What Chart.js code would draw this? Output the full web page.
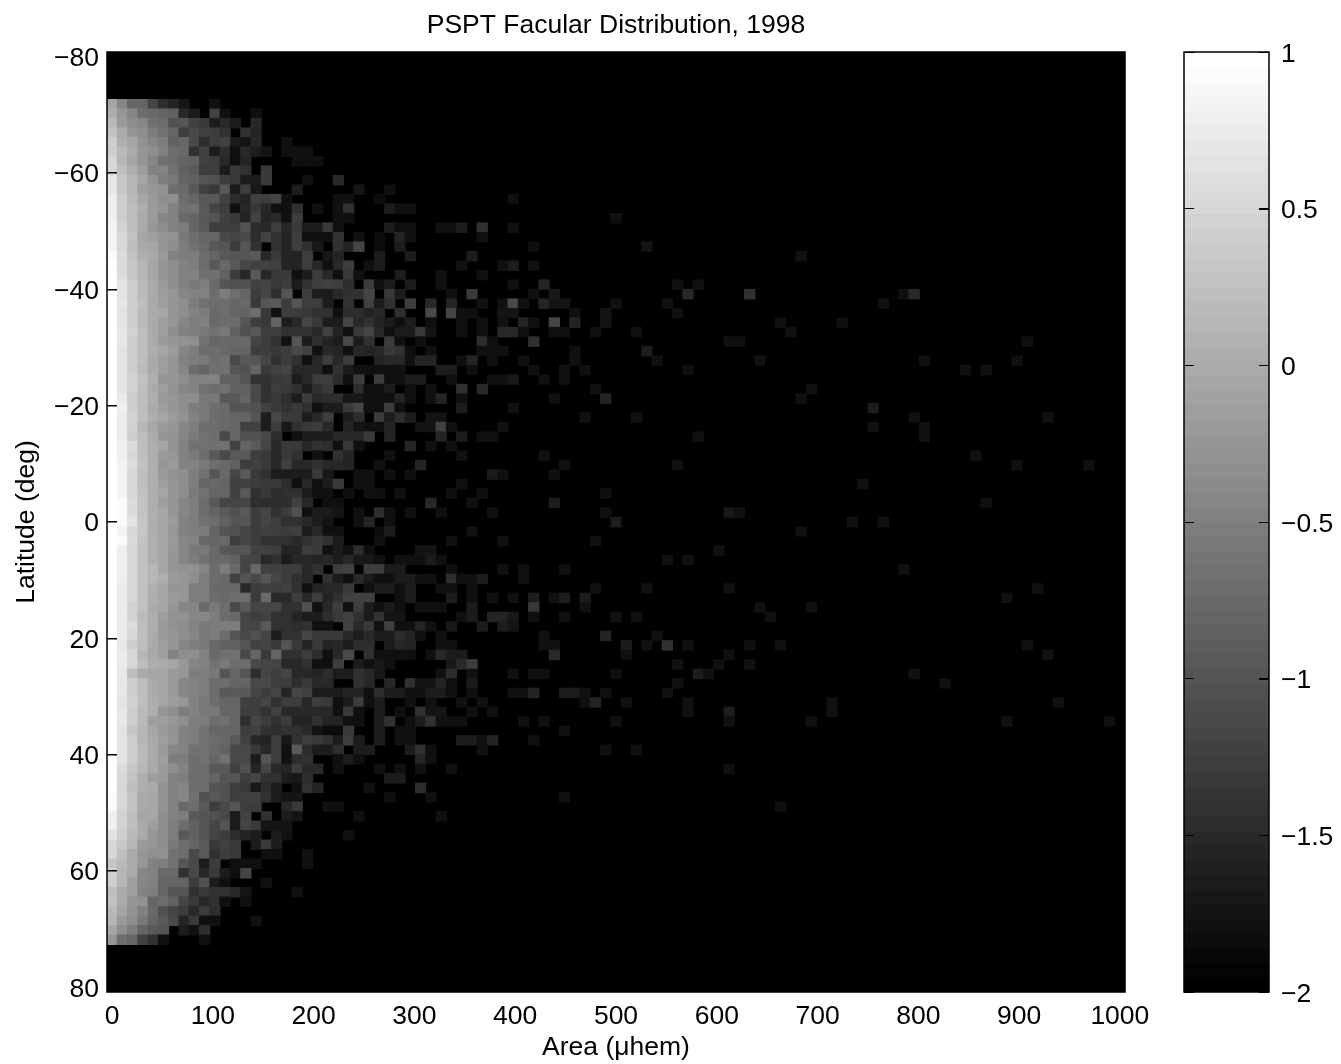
<!DOCTYPE html>
<html>
<head>
<meta charset="utf-8">
<title>PSPT Facular Distribution, 1998</title>
<script src="https://cdn.jsdelivr.net/npm/chart.js@4/dist/chart.umd.js"></script>
<style>
body { margin: 0; background: #fff; }
canvas { position: absolute; top: 0; }
#mapChart { left: 0; }
#barChart { left: 1150px; }
</style>
</head>
<body>
<canvas id="mapChart" width="1341" height="1064"></canvas>
<canvas id="barChart" width="191" height="1064"></canvas>
<script>
//axis ticks
let areaTicks = [0, 100, 200, 300, 400, 500, 600, 700, 800, 900, 1000]
let latTicks = [-80, -60, -40, -20, 0, 20, 40, 60, 80]
let colorTicks = [-2, -1.5, -1, -0.5, 0, 0.5, 1]

//bin centres of the image
let areaBins = [0,10.2,20.4,30.6,40.8,51,61.2,71.4,81.6,91.8,102,112.2,122.4,132.7,142.9,153.1,163.3,173.5,183.7,193.9,204.1,214.3,224.5,234.7,244.9,255.1,265.3,275.5,285.7,295.9,306.1,316.3,326.5,336.7,346.9,357.1,367.3,377.6,387.8,398,408.2,418.4,428.6,438.8,449,459.2,469.4,479.6,489.8,500,510.2,520.4,530.6,540.8,551,561.2,571.4,581.6,591.8,602,612.2,622.4,632.7,642.9,653.1,663.3,673.5,683.7,693.9,704.1,714.3,724.5,734.7,744.9,755.1,765.3,775.5,785.7,795.9,806.1,816.3,826.5,836.7,846.9,857.1,867.3,877.6,887.8,898,908.2,918.4,928.6,938.8,949,959.2,969.4,979.6,989.8,1000]
let latBins = [-80,-78.37,-76.73,-75.1,-73.47,-71.84,-70.2,-68.57,-66.94,-65.31,-63.67,-62.04,-60.41,-58.78,-57.14,-55.51,-53.88,-52.24,-50.61,-48.98,-47.35,-45.71,-44.08,-42.45,-40.82,-39.18,-37.55,-35.92,-34.29,-32.65,-31.02,-29.39,-27.76,-26.12,-24.49,-22.86,-21.22,-19.59,-17.96,-16.33,-14.69,-13.06,-11.43,-9.8,-8.16,-6.53,-4.9,-3.27,-1.63,0,1.63,3.27,4.9,6.53,8.16,9.8,11.43,13.06,14.69,16.33,17.96,19.59,21.22,22.86,24.49,26.12,27.76,29.39,31.02,32.65,34.29,35.92,37.55,39.18,40.82,42.45,44.08,45.71,47.35,48.98,50.61,52.24,53.88,55.51,57.14,58.78,60.41,62.04,63.67,65.31,66.94,68.57,70.2,71.84,73.47,75.1,76.73,78.37,80]

//colour bar levels
let colorLevels = [-1.9766,-1.9297,-1.8828,-1.8359,-1.7891,-1.7422,-1.6953,-1.6484,-1.6016,-1.5547,-1.5078,-1.4609,-1.4141,-1.3672,-1.3203,-1.2734,-1.2266,-1.1797,-1.1328,-1.0859,-1.0391,-0.9922,-0.9453,-0.8984,-0.8516,-0.8047,-0.7578,-0.7109,-0.6641,-0.6172,-0.5703,-0.5234,-0.4766,-0.4297,-0.3828,-0.3359,-0.2891,-0.2422,-0.1953,-0.1484,-0.1016,-0.0547,-0.0078,0.0391,0.0859,0.1328,0.1797,0.2266,0.2734,0.3203,0.3672,0.4141,0.4609,0.5078,0.5547,0.6016,0.6484,0.6953,0.7422,0.7891,0.8359,0.8828,0.9297,0.9766]

//log10 values, one row per latitude bin starting at denseFirstRow, columns from area 0
let denseFirstRow = 5
let denseRows = [
[-.06,-.41,-.82,-.82,-1.18,-1.47,-1.59,-1.76,-2,-2,-1.82],
[.06,-.24,-.41,-.71,-.76,-.82,-.88,-1.53,-1.65,-2,-1.24,-1.82,-2,-2,-1.82],
[.18,-.18,-.35,-.41,-.65,-.71,-1.06,-1,-1.24,-1.35,-1.65,-1.53,-1.67,-2,-1.53],
[.29,0,-.24,-.35,-.53,-.65,-.82,-1.29,-1.12,-1.24,-1.29,-1.41,-2,-1.41,-1.59],
[.41,.06,-.06,-.29,-.41,-.53,-.88,-.82,-1.12,-1.47,-1.29,-1.24,-1.65,-1.76,-1.53,-2,-2,-1.82],
[.41,.18,0,-.24,-.35,-.47,-.71,-.76,-1.41,-1.24,-1.65,-1.47,-1.82,-1.53,-1.65,-1.76,-2,-1.82,-1.82,-1.82],
[.53,.12,-.06,-.24,-.41,-.65,-.71,-.82,-.88,-1.24,-1.29,-1.53,-1.82,-1.59,-2,-2,-2,-2,-1.82,-1.82,-1.82],
[.53,.24,.06,-.12,-.47,-.47,-.65,-.88,-.94,-1.29,-1.29,-1.65,-1.35,-1.41,-2,-1.35],
[.71,.35,.12,-.06,-.29,-.53,-.59,-.82,-.88,-1,-1.06,-1.29,-1.35,-1.65,-1.65,-1.35,-2,-2,-2,-1.82,-2,-2,-1.53],
[.71,.35,.12,-.12,-.24,-.29,-.71,-.76,-.94,-1.24,-1.35,-.94,-1.65,-1.29,-1.71,-2,-2,-2,-1.65],
[.82,.41,.18,-.06,-.18,-.35,-.35,-.71,-.82,-.94,-.94,-1.24,-1.47,-1.59,-1.24,-1.29,-1.18,-1.82,-2,-2,-2,-2,-1.82],
[.82,.41,.24,.06,-.18,-.29,-.47,-.65,-.65,-.94,-1.18,-1.29,-1.82,-1.53,-1.35,-1.53,-1.82,-1.82,-1.41,-2,-1.82,-2,-1.82],
[.82,.41,.24,0,-.18,-.41,-.47,-.76,-.82,-.94,-1,-1.24,-1.35,-1.59,-1.24,-1.59,-1.53,-1.82,-1.29,-2,-2,-2,-1.82],
[.88,.47,.24,0,-.24,-.35,-.47,-.53,-.82,-.94,-1.29,-1.29,-1.29,-1,-1.47,-1.53,-1.29,-1.53,-1.35,-1.65,-1.65,-1.35,-1.82],
[.88,.53,.29,-.06,-.12,-.24,-.29,-.59,-.71,-.82,-.82,-1.12,-1.18,-1.12,-1.47,-1.24,-1.41,-1.59,-1.29,-1.82,-1.82,-1.82,-1.41],
[.88,.53,.24,0,-.06,-.24,-.35,-.53,-.65,-.76,-.94,-1,-1.29,-1,-1.41,-2,-1.41,-1.59,-1.29,-1.41,-1.71,-2,-1.41],
[.94,.59,.29,.06,0,-.18,-.47,-.53,-.53,-.71,-.82,-.94,-1,-1,-.94,-1.53,-1.35,-1.59,-1.59,-1.29,-2,-1.71,-1.59],
[1,.59,.35,.12,-.06,-.24,-.35,-.47,-.53,-.71,-.94,-.76,-.94,-1.18,-1.24,-1.24,-1.24,-1.59,-1.59,-1.29,-1.53,-1.82,-1.53],
[1,.59,.35,.12,-.06,-.24,-.35,-.47,-.47,-.65,-.65,-.88,-1.29,-1.53,-.94,-1.53,-1.35,-1.35,-1.82,-1.65,-1.29,-1.53,-1.82],
[1,.65,.41,.18,0,-.18,-.35,-.47,-.59,-.53,-.76,-1,-1.06,-1.06,-1.24,-1.18,-1.35,-1.29,-1.65,-1.41,-1.29,-1.24,-1.29],
[1,.65,.41,.18,0,-.12,-.24,-.41,-.47,-.47,-.71,-.53,-.71,-.82,-1.29,-1.18,-1.47,-1,-2,-1.29,-1.65,-1.65,-1.53],
[1,.71,.41,.24,0,-.12,-.24,-.35,-.53,-.65,-.71,-.71,-.82,-.76,-1.35,-1,-.94,-1.29,-1,-1.29,-1.29,-1.65,-2],
[1,.65,.41,.18,0,-.06,-.24,-.35,-.47,-.53,-.76,-.71,-.82,-.82,-.71,-1.35,-1.82,-1.29,-1.29,-1.35,-1.41,-1.41,-1.82],
[1,.65,.41,.18,0,-.12,-.24,-.41,-.53,-.47,-.76,-.71,-.71,-1,-1.29,-1.35,-.82,-1.65,-1.53,-1.18,-1.35,-1.65,-1.65],
[1,.71,.47,.24,0,-.12,-.35,-.47,-.53,-.59,-.65,-.59,-.88,-1.06,-.94,-1.29,-1.29,-1.41,-1.41,-1.41,-1.53,-1.24,-1.59],
[1,.71,.41,.24,0,-.18,-.24,-.29,-.35,-.65,-.82,-.76,-.76,-.76,-1.18,-1.29,-1.41,-1.82,-1,-1.65,-1.41,-1.59,-1.65],
[1,.65,.41,.24,.06,-.06,-.18,-.41,-.53,-.71,-.71,-.76,-.82,-.82,-1.29,-1.29,-1.35,-1.29,-1.12,-1.24,-1.82,-1.53,-1.59],
[1,.65,.41,.24,0,-.12,-.24,-.47,-.53,-.59,-.71,-.65,-1.12,-.94,-1,-1.18,-1.41,-1.29,-1.41,-1.82,-1.53,-1.29,-1.53],
[1,.65,.41,.18,0,-.12,-.24,-.41,-.71,-.82,-.65,-.65,-1,-1.06,-.82,-1.35,-1.24,-1.18,-1.53,-1.53,-1.53,-1.82,-1.41],
[1,.65,.47,.29,.06,-.24,-.24,-.35,-.47,-.47,-.47,-.88,-.88,-1,-1.41,-1.41,-1.35,-1.29,-1.65,-1.53,-1.29,-1.29,-1.47],
[1,.65,.47,.24,0,-.12,-.29,-.41,-.47,-.65,-.71,-.65,-.88,-.88,-1.12,-1.41,-1.29,-1.35,-1.41,-1.65,-1.41,-1.35,-2],
[1,.76,.41,.24,.06,-.18,-.24,-.35,-.35,-.59,-.59,-.94,-.94,-.82,-1.12,-1.41,-1.35,-1.47,-1.65,-1.29,-1.53,-1.47,-1.47],
[1,.82,.41,.24,0,-.12,-.24,-.35,-.53,-.59,-.71,-.76,-1,-1,-1.06,-1.24,-1.35,-1.41,-1.35,-1.41,-1.82,-1.65,-1.65],
[1,.76,.47,.24,.06,-.06,-.18,-.29,-.47,-.59,-.71,-.76,-.82,-.82,-1,-1.65,-1.12,-1.35,-1.35,-1.65,-1.53,-1.29,-2],
[1,.76,.47,.12,-.06,-.18,-.24,-.41,-.53,-.71,-.71,-.76,-.82,-1.24,-1.24,-1.65,-1.29,-1.71,-1.41,-1.35,-1.29,-1.53,-2],
[1,.76,.41,.24,0,-.24,-.29,-.41,-.59,-.65,-.71,-1.12,-.82,-1.06,-1.06,-1.12,-1.47,-2,-1.82,-1.65,-1.65,-1.65,-1.53],
[1,.82,.59,.24,.06,-.06,-.29,-.47,-.65,-.65,-.65,-.65,-1.24,-.82,-.94,-1.18,-1.53,-1.35,-1.35,-1.53,-1.41,-1.47,-1.82],
[1,.82,.53,.24,.06,-.18,-.24,-.47,-.59,-.71,-.94,-1.12,-.94,-.94,-1.29,-1.35,-1.53,-1.35,-1.41,-2,-1.82,-2,-1.41],
[1,.88,.59,.29,.06,-.24,-.18,-.47,-.47,-.59,-.71,-.76,-.88,-1.29,-1.24,-1.35,-1.53,-1.24,-1.53,-1.53,-1.41,-1.53,-1.53],
[1,.88,.53,.24,.06,-.18,-.29,-.35,-.53,-.65,-1,-.76,-1.18,-.94,-1.35,-1.41,-1.65,-1.65,-1.65,-1.65,-1.35,-1.71,-2],
[1,.88,.53,.24,.06,-.12,-.24,-.35,-.53,-.82,-.76,-.82,-1.24,-1.24,-1.29,-1.35,-1.35,-1.47,-1.82,-1.53,-1.82,-1.65,-1.35],
[1,.88,.53,.29,.06,-.06,-.24,-.35,-.59,-.65,-.82,-.82,-1.24,-.94,-1.41,-1.35,-1.47,-1.41,-1.41,-1.65,-1.82,-1.82,-2],
[1,.94,.59,.29,.06,-.12,-.24,-.41,-.53,-.71,-.94,-1.18,-1.18,-1.18,-1.47,-1.47,-1.47,-1.47,-1.24,-1.53,-2,-1.82,-1.82],
[1,.94,.59,.29,.06,-.06,-.24,-.41,-.53,-.71,-.82,-.94,-1.06,-.94,-1.29,-1.18,-1.41,-1.29,-1.06,-1.82,-1.65,-1.65,-1.76],
[1,.94,.65,.35,.06,-.06,-.18,-.47,-.53,-.65,-.71,-.88,-1,-1,-1.29,-1.18,-1.29,-1.41,-1.41,-1.53,-1.65,-1.76,-2],
[1,.88,.53,.35,.06,-.06,-.24,-.47,-.53,-.53,-.82,-1,-1.06,-1.18,-1.29,-1.24,-1.29,-1.29,-1.24,-1.65,-1.53,-1.82,-1.82],
[1,.94,.59,.29,.06,-.06,-.18,-.41,-.47,-.76,-.82,-.76,-1.29,-1.18,-1.29,-1.41,-1.41,-1.41,-1.53,-1.41,-1.35,-1.41,-1.65],
[1,.82,.53,.29,.06,-.06,-.24,-.41,-.59,-.59,-.76,-.94,-1,-1,-1.24,-1.24,-1.29,-1.59,-1.59,-1.29,-1.35,-1.82,-1.65],
[1,.82,.53,.29,.06,-.06,-.24,-.41,-.53,-.65,-.76,-.76,-.88,-1.18,-1.18,-1.53,-1.41,-1.65,-1.53,-1.53,-1.59,-1.53,-1.65],
[1,.82,.53,.29,.12,-.06,-.24,-.29,-.29,-.41,-.71,-.53,-.76,-1.18,-.76,-1.24,-1.24,-1.29,-1.29,-1.53,-1.41,-2,-1.29],
[1,.82,.53,.29,.12,.06,-.18,-.24,-.35,-.53,-.71,-.76,-1.24,-1,-1.12,-1,-1.18,-1.29,-1.41,-1.53,-2,-1.41,-1.65],
[1,.76,.53,.29,.06,-.06,-.24,-.24,-.53,-.53,-.76,-.76,-.76,-1.53,-1.29,-1.24,-1.29,-1.24,-1.41,-1.82,-1.59,-1.53,-1.53],
[1,.76,.53,.29,.06,-.06,-.18,-.24,-.53,-.53,-.71,-.76,-.71,-.71,-1.29,-.76,-1.53,-1.53,-1.29,-1.53,-1.29,-1.59,-1.41],
[1,.76,.47,.29,0,-.06,-.24,-.41,-.41,-.76,-.59,-.71,-1.12,-.94,-1.18,-1.18,-1.18,-1.41,-1.41,-1.06,-1.82,-1.53,-1.29],
[1,.76,.47,.18,.06,-.12,-.29,-.29,-.41,-.41,-.53,-.71,-.76,-1.18,-1.29,-1.24,-1.41,-1.41,-1.59,-1.65,-1.65,-1.47,-1.35],
[1,.76,.59,.24,.06,-.18,-.29,-.35,-.47,-.59,-.53,-.53,-.53,-1.18,-1.18,-.94,-1.41,-1.41,-1.47,-1.41,-1.82,-1.82,-2],
[1,.76,.53,.24,0,-.18,-.24,-.35,-.41,-.59,-.53,-.71,-1,-1.12,-1.06,-1.18,-1.65,-1.41,-1.41,-1.18,-1.35,-1.35,-1.35],
[1,.71,.41,.24,0,-.12,-.24,-.41,-.53,-.59,-.76,-.88,-.88,-1,-1.24,-1.18,-1.35,-1,-1.35,-1.59,-1.35,-1.59,-1.53],
[1,.76,.53,.12,0,-.12,-.47,-.35,-.35,-.47,-.76,-.65,-.65,-1.12,-.82,-1.35,-.82,-1.41,-1.41,-1.29,-1.47,-1.82,-1.53],
[1,.76,.53,.24,.06,0,-.06,-.24,-.41,-.47,-.65,-.59,-.71,-.71,-1.12,-1.18,-1.18,-1.53,-1.53,-1.41,-1.82,-1.82,-1.29],
[1,.71,.24,0,-.06,-.06,-.18,-.24,-.53,-.53,-.59,-1,-.82,-1,-1.47,-1.18,-1.29,-1.18,-1.53,-1.53,-1.59,-1.47,-1.65],
[1,.71,.41,.24,0,-.06,-.18,-.41,-.47,-.53,-.71,-.71,-.82,-.82,-1.12,-1.12,-1.29,-1.29,-1.47,-1.35,-1.53,-1.53,-2],
[1,.71,.41,.24,0,-.06,-.18,-.41,-.47,-.53,-.71,-.94,-.94,-.94,-1.18,-1.29,-1.18,-1.59,-1.18,-1.24,-1.65,-1.65,-1.65],
[1,.65,.47,.24,.06,-.06,-.12,-.24,-.47,-.59,-.71,-.82,-.82,-1.24,-1.29,-1.18,-1.41,-1.29,-1.29,-1.53,-1.29,-1.35,-1.82],
[1,.71,.41,.18,.06,-.24,-.35,-.53,-.47,-.59,-.59,-.82,-.82,-1.29,-1.29,-1.41,-1.24,-1.53,-1.53,-1.53,-1.53,-1.53,-1.82],
[1,.71,.41,.18,-.12,-.12,-.24,-.35,-.53,-.53,-.71,-.65,-.82,-1.47,-1.18,-1.29,-1.41,-1.29,-1.59,-1.59,-1.41,-1.59,-1.59],
[1,.65,.35,.12,-.06,-.18,-.29,-.47,-.53,-.65,-.82,-.82,-.82,-1.29,-1.24,-1.41,-1.47,-1.41,-1.41,-1.53,-1.76,-1.88,-1.88],
[1,.65,.41,.12,0,-.12,-.24,-.47,-.53,-.65,-.71,-.76,-.94,-1.24,-1.53,-1.59,-1.29,-1.71,-1.41,-1.29,-1.35,-1.41,-1.65],
[1,.65,.41,.18,0,-.18,-.41,-.47,-.65,-.65,-.76,-.88,-1.12,-1.12,-1.35,-1.53,-1.29,-1.82,-.94,-1.47,-1.65,-1.65,-1.47],
[1,.65,.41,.18,0,-.12,-.53,-.53,-.71,-.65,-.82,-.65,-1.12,-1.12,-1.65,-1,-1.29,-1.82,-1.47,-1.41,-2,-2,-1.82],
[1,.59,.35,.12,0,-.18,-.35,-.47,-.71,-.71,-.94,-.94,-1.24,-1.06,-1.59,-1.18,-1.53,-1.59,-1.29,-1.53,-1.53,-2,-1.82],
[1,.53,.29,.06,-.12,-.18,-.47,-.53,-.71,-.71,-.82,-1,-1,-1.29,-1.18,-1.41,-1.41,-1.65,-1.71,-1.47,-2,-2,-2],
[1,.53,.24,.06,0,-.29,-.47,-.41,-.71,-.71,-1,-1.06,-1.29,-1.35,-1.71,-1.47,-1.65,-2,-1.82,-1.41,-1.59],
[.94,.53,.29,0,-.06,-.29,-.47,-.41,-.65,-1.06,-.94,-1.06,-1.29,-1.24,-1.24,-1.41,-1.65,-1.76,-1.76],
[.94,.53,.29,0,-.06,-.29,-.47,-.76,-.71,-.94,-1.29,-1.12,-1,-1.29,-1.29,-2,-2,-1.53,-1.35,-2,-2,-1.82,-1.82],
[.82,.47,.24,-.06,-.06,-.35,-.47,-.53,-.94,-1,-1.06,-1.12,-1.65,-1.24,-2,-1.41,-2,-1.65,-1.76],
[.82,.47,.24,0,-.12,-.35,-.53,-.71,-.88,-1,-1.18,-1,-1.65,-1.18,-1.35,-1.76,-1.76,-1.76],
[.65,.41,.18,0,-.24,-.35,-.53,-.94,-.88,-1,-1.18,-1.29,-1.47,-1.59,-1.65,-2,-1.65,-1.82],
[.53,.35,.12,-.18,-.24,-.35,-.59,-.71,-.82,-.94,-1.35,-1.24,-1.35,-2,-1.65,-1.35,-1.65],
[.53,.24,0,-.24,-.35,-.29,-.65,-.71,-1.12,-.94,-1.41,-1.29,-1.35,-2,-2,-1.82,-1.82,-2,-2,-1.82],
[.35,.18,0,-.24,-.47,-.53,-.65,-1,-1.12,-1.65,-1.29,-2,-1.82,-1.82,-1.82,-2,-2,-2,-2,-1.82],
[.47,.12,0,-.41,-.47,-.76,-.76,-1.41,-1.12,-1.53,-1.35,-1.65,-1.82,-1.18],
[.41,.12,-.12,-.41,-.47,-.82,-.82,-.82,-1.29,-1.06,-1.65,-1.82,-2,-2,-2,-1.82],
[.24,0,-.12,-.47,-.53,-.82,-1,-1,-1.41,-1.35,-1.41,-1.41,-1.53,-1.76,-2,-2,-2,-2,-1.82],
[.29,0,-.24,-.29,-.82,-.71,-.88,-1.18,-1.35,-1.53,-1.41,-1.82,-2,-1.82],
[.18,-.06,-.29,-.47,-.76,-1.06,-1.18,-1.29,-1.53,-1.29,-1.47],
[.12,-.18,-.35,-.59,-.82,-.94,-1.12,-1.59,-1.35,-1.82,-1.82,-2,-2,-2,-1.82],
[-.06,-.35,-.53,-.82,-.94,-1,-2,-1.65,-1.82,-1.47],
[-.24,-.71,-.82,-1.24,-1.41,-1.82,-2,-2,-2,-1.82]
]

//sparse tail of the distribution: [area bin, latitude bin, log10 value]
let tailCells = [
[24,14,-1.76],[27,14,-1.82],[23,15,-1.82],[26,15,-1.88],[39,15,-1.82],[23,16,-1.41],[27,16,-1.65],[28,16,-1.82],[29,16,-1.82],[23,17,-1.82],[49,17,-1.82],
[27,18,-1.65],[28,18,-1.82],[29,18,-1.82],[32,18,-1.82],[33,18,-1.82],[34,18,-1.65],[36,18,-1.41],[39,18,-1.82],
[24,19,-1.82],[26,19,-1.88],[28,19,-1.59],[29,19,-1.82],[36,19,-1.82],
[23,20,-1.59],[24,20,-1.18],[26,20,-1.88],[28,20,-1.65],[41,20,-1.82],[52,20,-1.76],
[26,21,-1.65],[29,21,-1.65],[35,21,-1.65],[67,21,-1.82],
[23,22,-1.29],[25,22,-1.82],[26,22,-1.65],[34,22,-1.82],[38,22,-1.82],[39,22,-1.65],[41,22,-1.82],
[23,23,-1.35],[24,23,-1.82],[28,23,-1.65],[32,23,-1.82],[36,23,-1.82],
[23,24,-1.47],[25,24,-1.29],[26,24,-1.82],[27,24,-1.65],[29,24,-1.65],[32,24,-1.82],[39,24,-1.82],[42,24,-1.59],[55,24,-1.82],[57,24,-1.82],
[23,25,-1.41],[24,25,-1.41],[25,25,-1.18],[27,25,-1.35],[28,25,-1.65],[33,25,-1.82],[35,25,-1.35],[41,25,-1.82],[43,25,-1.71],[56,25,-1.53],[62,25,-1.41],[77,25,-1.82],[78,25,-1.53],
[23,26,-1.41],[25,26,-1.24],[26,26,-1.65],[27,26,-1.41],[29,26,-1.29],[31,26,-1.53],[33,26,-1.59],[36,26,-1.82],[38,26,-1.82],[39,26,-1.12],[40,26,-1.82],[42,26,-1.59],[43,26,-1.76],[44,26,-1.76],[49,26,-1.82],[54,26,-1.82],[75,26,-1.82],
[23,27,-1.47],[24,27,-1.47],[25,27,-1.59],[26,27,-1.53],[28,27,-1.47],[31,27,-1.12],[33,27,-1.18],[34,27,-1.82],[35,27,-1.82],[38,27,-1.76],[39,27,-1.76],[45,27,-1.82],[48,27,-1.76],[55,27,-1.82],
[23,28,-1.18],[24,28,-1.53],[25,28,-1.41],[26,28,-1.59],[27,28,-1.65],[28,28,-1.82],[29,28,-1.65],[31,28,-1.82],[34,28,-1.82],[36,28,-1.82],[38,28,-1.82],[40,28,-1.59],[41,28,-1.82],[43,28,-1.18],[45,28,-1.59],[48,28,-1.76],[65,28,-1.82],[71,28,-1.82],
[23,29,-1.82],[24,29,-1.35],[25,29,-1.18],[26,29,-1.53],[27,29,-1.82],[28,29,-1.65],[29,29,-1.65],[30,29,-1.35],[31,29,-1.76],[34,29,-1.82],[36,29,-1.82],[38,29,-1.53],[39,29,-1.53],[40,29,-1.82],[43,29,-1.82],[44,29,-1.82],[47,29,-1.82],[51,29,-1.82],[66,29,-1.82],
[23,30,-1.12],[24,30,-1.65],[25,30,-1.41],[27,30,-1.29],[28,30,-1.82],[30,30,-1.82],[36,30,-1.47],[37,30,-1.82],[41,30,-1.41],[60,30,-1.82],[61,30,-1.82],[89,30,-1.82],
[23,31,-1.82],[24,31,-1.53],[25,31,-1.59],[26,31,-1.53],[27,31,-1.35],[28,31,-1.41],[29,31,-1.82],[31,31,-1.82],[36,31,-1.82],[37,31,-1.82],[38,31,-1.82],[45,31,-1.82],[52,31,-1.65],
[23,32,-1.29],[26,32,-1.59],[27,32,-1.53],[28,32,-1.53],[29,32,-1.82],[30,32,-1.59],[31,32,-1.59],[34,32,-1.82],[35,32,-1.59],[37,32,-1.82],[40,32,-1.82],[45,32,-1.82],[53,32,-1.82],[63,32,-1.82],[79,32,-1.82],[88,32,-1.82],
[23,33,-1.65],[24,33,-1.82],[25,33,-1.82],[26,33,-1.82],[27,33,-1.82],[28,33,-1.82],[32,33,-1.65],[33,33,-1.65],[35,33,-1.82],[41,33,-1.82],[44,33,-1.82],[46,33,-1.82],[56,33,-1.82],[83,33,-1.82],[85,33,-1.82],
[23,34,-1.82],[24,34,-1.29],[26,34,-1.29],[27,34,-1.82],[28,34,-1.82],[29,34,-1.65],[30,34,-1.65],[33,34,-1.82],[37,34,-1.82],[38,34,-1.82],[39,34,-1.71],[42,34,-1.82],[44,34,-1.82],
[24,35,-1.47],[25,35,-1.82],[26,35,-1.82],[27,35,-1.65],[29,35,-1.82],[31,35,-1.82],[34,35,-1.41],[36,35,-1.53],[47,35,-1.82],[68,35,-1.82],
[23,36,-1.71],[24,36,-1.71],[25,36,-1.82],[26,36,-1.82],[27,36,-1.82],[28,36,-1.59],[29,36,-1.82],[31,36,-1.82],[32,36,-1.59],[34,36,-1.82],[43,36,-1.82],[48,36,-1.59],[67,36,-1.82],
[23,37,-1.35],[24,37,-1.18],[25,37,-1.82],[26,37,-1.82],[27,37,-1.29],[28,37,-1.82],[34,37,-1.65],[39,37,-1.82],[74,37,-1.65],
[23,38,-1.65],[24,38,-1.47],[26,38,-1.29],[27,38,-1.65],[28,38,-1.47],[29,38,-1.65],[31,38,-1.76],[32,38,-1.76],[46,38,-1.82],[51,38,-1.82],[78,38,-1.82],[91,38,-1.82],
[23,39,-1.59],[24,39,-1.76],[25,39,-1.82],[26,39,-1.82],[27,39,-1.59],[30,39,-1.76],[31,39,-1.76],[32,39,-1.24],[33,39,-1.82],[38,39,-1.82],[74,39,-1.82],[79,39,-1.82],
[23,40,-1.53],[24,40,-1.53],[25,40,-1.35],[27,40,-1.59],[32,40,-1.59],[34,40,-1.65],[36,40,-1.82],[37,40,-1.82],[57,40,-1.82],[79,40,-1.82],
[23,41,-1.35],[24,41,-1.82],[29,41,-1.59],[31,41,-1.82],[33,41,-1.82],
[23,42,-1.59],[27,42,-1.82],[34,42,-1.82],[42,42,-1.82],[84,42,-1.82],
[23,43,-1.59],[26,43,-1.82],[30,43,-1.59],[44,43,-1.82],[55,43,-1.82],[88,43,-1.82],[95,43,-1.82],
[24,44,-1.82],[25,44,-1.82],[27,44,-1.82],[29,44,-1.82],[37,44,-1.65],[38,44,-1.82],[43,44,-1.82],
[24,45,-1.82],[25,45,-1.82],[34,45,-1.82],[73,45,-1.82],
[23,46,-1.82],[25,46,-1.82],[26,46,-1.82],[28,46,-1.82],[33,46,-1.82],[36,46,-1.82],[48,46,-1.82],
[31,47,-1.53],[35,47,-1.82],[43,47,-1.65],[85,47,-1.82],
[24,48,-1.82],[26,48,-1.47],[27,48,-1.82],[29,48,-1.82],[32,48,-1.82],[37,48,-1.82],[48,48,-1.82],[60,48,-1.71],[61,48,-1.82],
[24,49,-1.82],[25,49,-1.59],[27,49,-1.82],[49,49,-1.65],[72,49,-1.82],[75,49,-1.82],
[26,50,-1.88],[27,50,-1.65],[35,50,-1.82],[67,50,-1.82],
[26,51,-1.82],[33,51,-1.82],[38,51,-1.82],[47,51,-1.82],
[23,52,-1.82],[24,52,-1.47],[25,52,-1.82],[30,52,-1.76],[31,52,-1.76],[59,52,-1.82],
[23,53,-1.53],[24,53,-1.71],[25,53,-1.71],[26,53,-1.82],[28,53,-1.82],[29,53,-1.82],[30,53,-1.82],[31,53,-1.65],[32,53,-1.82],[54,53,-1.82],[56,53,-1.82],
[23,54,-1.24],[25,54,-1.29],[26,54,-1.29],[27,54,-1.65],[28,54,-1.65],[33,54,-1.82],[38,54,-1.82],[40,54,-1.82],[44,54,-1.82],[77,54,-1.82],
[23,55,-1.82],[24,55,-1.53],[25,55,-1.65],[26,55,-1.82],[27,55,-1.82],[28,55,-1.65],[29,55,-1.65],[30,55,-1.82],[31,55,-1.82],[33,55,-1.47],[34,55,-1.82],[35,55,-1.82],[36,55,-1.65],[40,55,-1.82],
[23,56,-1.35],[25,56,-1.82],[26,56,-1.65],[27,56,-1.65],[28,56,-1.82],[29,56,-1.65],[32,56,-1.82],[33,56,-1.82],[35,56,-1.82],[47,56,-1.82],[52,56,-1.82],[60,56,-1.82],[90,56,-1.82],
[23,57,-1.24],[24,57,-1.24],[25,57,-1.24],[28,57,-1.82],[29,57,-1.65],[33,57,-1.65],[35,57,-1.82],[37,57,-1.82],[39,57,-1.82],[41,57,-1.65],[43,57,-1.82],[44,57,-1.65],[46,57,-1.65],[87,57,-1.82],
[23,58,-1.82],[24,58,-1.29],[25,58,-1.65],[26,58,-1.82],[27,58,-1.65],[28,58,-1.82],[30,58,-1.82],[31,58,-1.82],[32,58,-1.82],[35,58,-1.65],[41,58,-1.35],[46,58,-1.82],[63,58,-1.82],[68,58,-1.82],
[23,59,-1.24],[24,59,-1.41],[25,59,-1.65],[26,59,-1.41],[27,59,-1.76],[28,59,-1.76],[34,59,-1.82],[35,59,-1.65],[37,59,-1.59],[38,59,-1.59],[39,59,-1.71],[41,59,-1.82],[44,59,-1.82],[49,59,-1.82],[51,59,-1.82],[64,59,-1.82],
[23,60,-1.24],[24,60,-1.53],[25,60,-1.35],[26,60,-1.82],[27,60,-1.24],[28,60,-1.82],[29,60,-1.82],[30,60,-1.59],[31,60,-1.82],[33,60,-1.71],[36,60,-1.65],[38,60,-1.65],[39,60,-1.76],
[23,61,-1.53],[24,61,-1.65],[25,61,-1.53],[26,61,-1.65],[27,61,-1.65],[28,61,-1.47],[29,61,-1.59],[30,61,-1.82],[32,61,-1.82],[42,61,-1.82],[48,61,-1.59],[53,61,-1.82],
[23,62,-1.65],[24,62,-1.47],[25,62,-1.47],[27,62,-1.65],[28,62,-1.53],[29,62,-1.59],[32,62,-1.82],[33,62,-1.82],[42,62,-1.82],[43,62,-1.82],[50,62,-1.65],[52,62,-1.82],[54,62,-1.41],[56,62,-1.82],[62,62,-1.82],[65,62,-1.82],[89,62,-1.82],
[23,63,-1.12],[25,63,-1.41],[26,63,-1.82],[27,63,-1.82],[28,63,-1.82],[29,63,-1.82],[31,63,-1.82],[32,63,-1.53],[33,63,-1.65],[34,63,-1.65],[43,63,-1.53],[50,63,-1.82],[60,63,-1.82],[91,63,-1.82],
[24,64,-1.65],[25,64,-1.82],[26,64,-1.71],[27,64,-1.82],[33,64,-1.71],[34,64,-1.53],[35,64,-1.29],[55,64,-1.82],[59,64,-1.82],[62,64,-1.82],
[23,65,-1.65],[24,65,-1.41],[25,65,-1.53],[26,65,-1.71],[32,65,-1.82],[33,65,-1.47],[35,65,-1.82],[39,65,-1.82],[41,65,-1.82],[42,65,-1.82],[49,65,-1.82],[57,65,-1.65],[58,65,-1.82],[78,65,-1.82],
[24,66,-1.41],[25,66,-1.53],[27,66,-1.53],[29,66,-1.41],[30,66,-1.76],[31,66,-1.76],[32,66,-1.59],[33,66,-1.82],[35,66,-1.65],[55,66,-1.82],[81,66,-1.82],
[23,67,-1.59],[24,67,-1.59],[25,67,-1.82],[26,67,-1.47],[27,67,-1.65],[28,67,-1.65],[29,67,-1.82],[30,67,-1.82],[31,67,-1.65],[32,67,-1.65],[33,67,-1.82],[35,67,-1.82],[39,67,-1.82],[40,67,-1.82],[41,67,-1.59],[44,67,-1.65],[45,67,-1.65],[46,67,-1.82],[48,67,-1.82],[54,67,-1.82],
[23,68,-1.65],[24,68,-1.29],[25,68,-1.82],[26,68,-1.65],[29,68,-1.82],[31,68,-1.82],[34,68,-1.82],[36,68,-1.82],[46,68,-1.82],[47,68,-1.59],[50,68,-1.82],[56,68,-1.82],[70,68,-1.82],[92,68,-1.82],
[23,69,-1.35],[24,69,-1.82],[26,69,-1.65],[28,69,-1.82],[30,69,-1.41],[31,69,-1.76],[32,69,-1.76],[35,69,-1.82],[37,69,-1.82],[56,69,-1.82],[60,69,-1.65],[70,69,-1.82],
[23,70,-1.82],[24,70,-1.82],[26,70,-1.65],[27,70,-1.41],[29,70,-1.82],[30,70,-1.65],[31,70,-1.41],[32,70,-1.82],[33,70,-1.82],[34,70,-1.82],[40,70,-1.82],[42,70,-1.82],[49,70,-1.82],[60,70,-1.82],[68,70,-1.82],[87,70,-1.82],[97,70,-1.82],
[23,71,-1.35],[26,71,-1.65],[28,71,-1.82],[29,71,-1.82],[44,71,-1.82],
[23,72,-1.29],[24,72,-1.65],[26,72,-1.65],[28,72,-1.82],[29,72,-1.82],[34,72,-1.65],[35,72,-1.65],[36,72,-1.82],[37,72,-1.59],[41,72,-1.82],
[24,73,-1.65],[25,73,-1.65],[29,73,-1.65],[30,73,-1.41],[31,73,-1.82],[36,73,-1.82],[48,73,-1.82],[51,73,-1.82],
[23,74,-1.65],[24,74,-1.82],[30,74,-1.59],[31,74,-1.82],
[26,75,-1.82],[28,75,-1.82],[30,75,-1.82],[33,75,-1.82],[60,75,-1.82],
[27,76,-1.65],[28,76,-1.65],
[25,77,-1.82],[30,77,-1.47],
[27,78,-1.82],[31,78,-1.82],[44,78,-1.82],
[65,79,-1.82],
[24,80,-1.82],[32,80,-1.82],
[23,82,-1.82]
]

const fontName = "'Liberation Sans', Arial, sans-serif"
const fontSize = 26.5

//one bar per filled image cell
let cells = []
denseRows.forEach(function (row, i) {
    row.forEach(function (v, c) {
        if (v > -2) cells.push({ x: [areaBins[c] - 5.1, areaBins[c] + 5.1], y: latBins[denseFirstRow + i], v: v })
    })
})
tailCells.forEach(function (t) {
    cells.push({ x: [areaBins[t[0]] - 5.1, areaBins[t[0]] + 5.1], y: latBins[t[1]], v: t[2] })
})

//same 64 step gray ramp as the colour bar
function grayFor(v) {
    let level = Math.max(0, Math.min(63, Math.round((v + 2) / 3 * 63)))
    let g = Math.round(level / 63 * 255)
    return "rgb(" + g + "," + g + "," + g + ")"
}

function minusSign(value) {
    return String(value).replace("-", "\u2212")
}

//black image background and frame
let framePlugin = {
    id: "frame",
    beforeDatasetsDraw(chart, args, opts) {
        if (!opts.fill) return
        let a = chart.chartArea
        chart.ctx.fillStyle = "#000"
        chart.ctx.fillRect(a.left, a.top, a.width, a.height)
    },
    afterDatasetsDraw(chart) {
        let a = chart.chartArea
        chart.ctx.strokeStyle = "#000"
        chart.ctx.lineWidth = 1.5
        chart.ctx.strokeRect(a.left, a.top, a.width, a.height)
    }
}

//inward ticks on the right edge of the colour bar
let rightTicksPlugin = {
    id: "rightTicks",
    afterDraw(chart) {
        let a = chart.chartArea
        let ctx = chart.ctx
        ctx.strokeStyle = "#000"
        ctx.lineWidth = 1
        colorTicks.forEach(function (v) {
            let y = Math.round(chart.scales.y.getPixelForValue(v)) + 0.5
            ctx.beginPath()
            ctx.moveTo(a.right - 10, y)
            ctx.lineTo(a.right, y)
            ctx.stroke()
        })
    }
}

let mapChart = new Chart(document.getElementById("mapChart").getContext("2d"), {
    type: "bar",
    data: {
        datasets: [{
            data: cells,
            backgroundColor: function (ctx) { return ctx.raw ? grayFor(ctx.raw.v) : "#000" },
            barThickness: 9.5,
            inflateAmount: 0.5,
            borderWidth: 0
        }]
    },
    plugins: [framePlugin],
    options: {
        indexAxis: "y",
        responsive: false,
        animation: false,
        events: [],
        layout: { padding: { right: 216 } },
        plugins: {
            legend: { display: false },
            tooltip: { enabled: false },
            frame: { fill: true },
            title: {
                display: true,
                fullSize: false,
                text: "PSPT Facular Distribution, 1998",
                color: "#000",
                font: { family: fontName, size: fontSize, weight: "normal" },
                padding: { top: 9.5, bottom: 10.7 }
            }
        },
        scales: {
            x: {
                type: "linear",
                min: -5.1,
                max: 1005.1,
                afterBuildTicks(scale) { scale.ticks = areaTicks.map(v => ({ value: v })) },
                afterFit(scale) { scale.height = 72 },
                grid: { display: false, drawTicks: false },
                border: { display: false },
                ticks: { color: "#000", font: { family: fontName, size: fontSize }, padding: 9, maxRotation: 0, autoSkip: false, callback: function (value) { return String(value) } },
                title: { display: true, text: "Area (\u03bchem)", color: "#000", font: { family: fontName, size: fontSize }, padding: { top: 0, bottom: 0 } }
            },
            y: {
                type: "linear",
                reverse: true,
                offset: false,
                min: -80.82,
                max: 80.82,
                afterBuildTicks(scale) { scale.ticks = latTicks.map(v => ({ value: v })) },
                afterFit(scale) { scale.width = 107 },
                grid: { z: 1, offset: false, drawOnChartArea: false, tickLength: -10, color: "#000", lineWidth: 1.5 },
                border: { display: false },
                ticks: { color: "#000", font: { family: fontName, size: fontSize }, padding: 18, labelOffset: 2, autoSkip: false, callback: minusSign },
                title: { display: true, text: "Latitude (deg)", color: "#000", font: { family: fontName, size: fontSize }, padding: { top: 11, bottom: 0 } }
            }
        }
    }
})

//colour bar
let colorCells = colorLevels.map(function (v) { return { x: [0, 1], y: v, v: v } })

let barChart = new Chart(document.getElementById("barChart").getContext("2d"), {
    type: "bar",
    data: {
        datasets: [{
            data: colorCells,
            backgroundColor: function (ctx) { return ctx.raw ? grayFor(ctx.raw.v) : "#000" },
            barThickness: 14.69,
            inflateAmount: 0.5,
            borderWidth: 0
        }]
    },
    plugins: [framePlugin, rightTicksPlugin],
    options: {
        indexAxis: "y",
        responsive: false,
        animation: false,
        events: [],
        layout: { padding: { left: 34, top: 52, bottom: 72 } },
        plugins: { legend: { display: false }, tooltip: { enabled: false }, frame: { fill: false } },
        scales: {
            x: { type: "linear", min: 0, max: 1, display: false },
            y: {
                type: "linear",
                position: "right",
                offset: false,
                min: -2,
                max: 1,
                afterBuildTicks(scale) { scale.ticks = colorTicks.map(v => ({ value: v })) },
                afterFit(scale) { scale.width = 72 },
                grid: { z: 1, offset: false, drawOnChartArea: false, tickLength: -10, color: "#000", lineWidth: 1 },
                border: { display: false },
                ticks: { color: "#000", font: { family: fontName, size: fontSize }, padding: 22, labelOffset: 2.5, autoSkip: false, callback: minusSign }
            },
            yLeft: {
                type: "linear",
                position: "left",
                offset: false,
                min: -2,
                max: 1,
                afterBuildTicks(scale) { scale.ticks = colorTicks.map(v => ({ value: v })) },
                afterFit(scale) { scale.width = 0 },
                grid: { z: 1, offset: false, drawOnChartArea: false, tickLength: -10, color: "#000", lineWidth: 1 },
                border: { display: false },
                ticks: { display: false }
            }
        }
    }
})
</script>
</body>
</html>
